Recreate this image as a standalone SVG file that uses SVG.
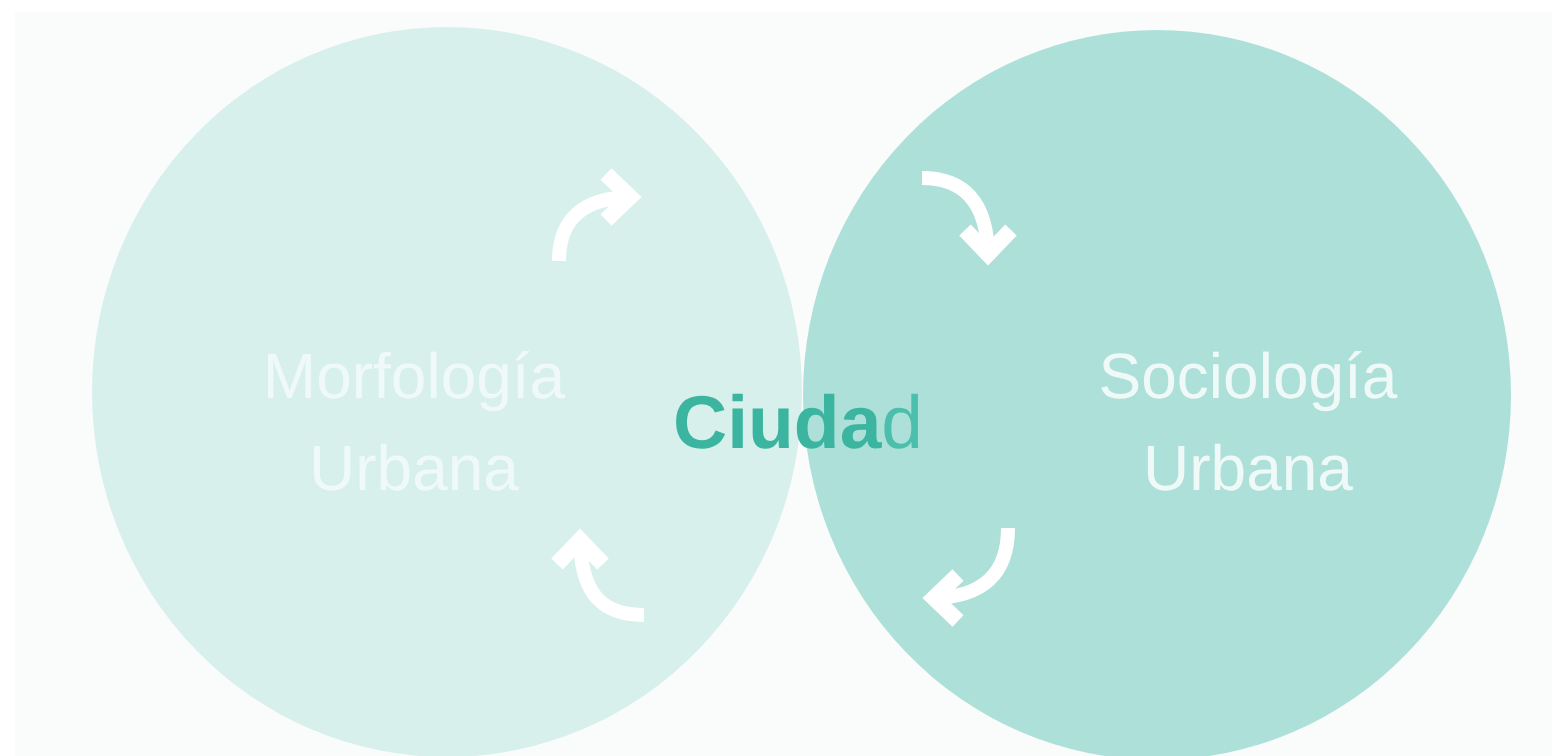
<svg xmlns="http://www.w3.org/2000/svg" width="1552" height="756" viewBox="0 0 1552 756">
  <style>
    .label { font-family: "Liberation Sans", Arial, sans-serif; font-size: 64px; text-anchor: middle; fill: #ffffff; text-rendering: geometricPrecision; }
    .shaft { fill: none; stroke: #ffffff; stroke-width: 14; }
    .center { font-family: "Liberation Sans", Arial, sans-serif; font-size: 75px; fill: #3bb5a0; text-rendering: geometricPrecision; }
  </style>
  <defs>
    <marker id="chev" markerUnits="userSpaceOnUse" viewBox="-50 -40 70 80" markerWidth="70" markerHeight="80" refX="0" refY="0" orient="auto">
      <path d="M-28,-23 L-4,0 L-28,23" fill="none" stroke="#ffffff" stroke-width="16" stroke-linejoin="miter" stroke-miterlimit="10"/>
    </marker>
  </defs>
  <rect x="0" y="0" width="1552" height="756" fill="#ffffff"/>
  <rect x="15" y="12" width="1537" height="744" fill="#fafcfc"/>

  <g id="node-morfologia">
    <ellipse cx="447" cy="392" rx="355" ry="365" fill="#d8f0ec"/>
    <text class="label" x="414" y="398" fill-opacity="0.6">Morfología</text>
    <text class="label" x="414" y="490" fill-opacity="0.6">Urbana</text>
  </g>

  <g id="node-sociologia">
    <ellipse cx="1157" cy="395" rx="354" ry="365" fill="#aee0da"/>
    <text class="label" x="1248" y="398" fill-opacity="0.8">Sociología</text>
    <text class="label" x="1248" y="490" fill-opacity="0.8">Urbana</text>
  </g>

  <g id="node-ciudad">
    <text class="center" x="673" y="448"><tspan font-weight="bold">Ciuda</tspan><tspan fill="#4cbfac">d</tspan></text>
  </g>

  <g id="connectors">
    <path class="shaft" d="M559,261 C559,220 582,197 634,197" marker-end="url(#chev)"/>
    <path class="shaft" d="M922,178 C962,178 988,200 988,258" marker-end="url(#chev)"/>
    <path class="shaft" d="M1008,528 C1008,572 985,598 930,598" marker-end="url(#chev)"/>
    <path class="shaft" d="M644,615 C602,615 580,594 580,536" marker-end="url(#chev)"/>
  </g>
</svg>
